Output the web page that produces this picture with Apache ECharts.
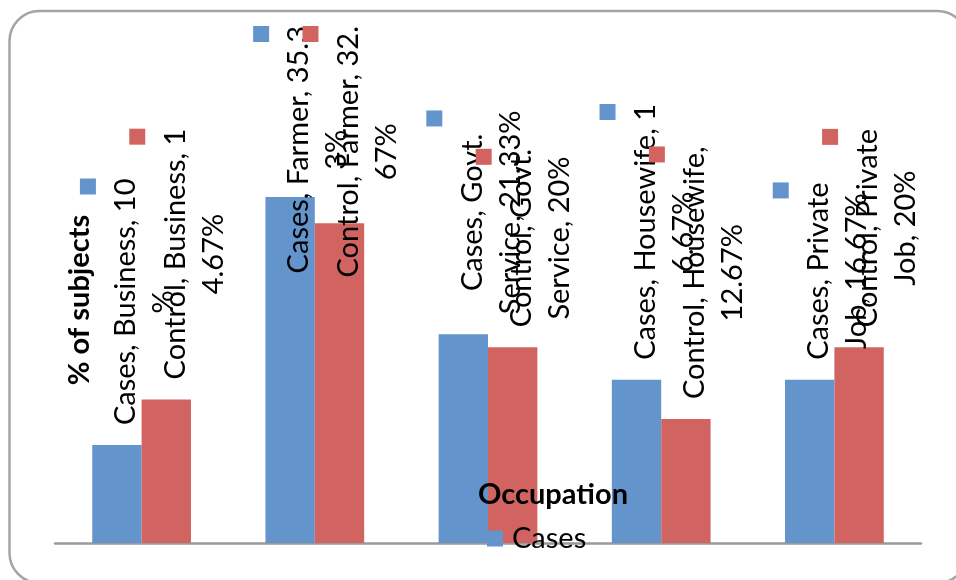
<!DOCTYPE html>
<html>
<head>
<meta charset="utf-8">
<script src="https://cdn.jsdelivr.net/npm/echarts@6/dist/echarts.min.js"></script>
<style>
  html, body { margin: 0; padding: 0; background: #ffffff; }
  #chart { width: 956px; height: 580px; }
</style>
</head>
<body>
<div id="chart"></div>
<script>
// Occupation of subjects: cases vs. controls (% of subjects)
const occupations = ['Business', 'Farmer', 'Govt. Service', 'Housewife', 'Private Job'];
const casesPct = [10, 35.33, 21.33, 16.67, 16.67];
const controlPct = [14.67, 32.67, 20, 12.67, 20];
// character position where each data label wraps onto its second line
const casesWrapAt = [19, 19, 12, 19, 14];
const controlWrapAt = [20, 20, 14, 19, 16];

const CASES_COLOR = '#6494cc';
const CONTROL_COLOR = '#d16460';
const FONT = 'Lato, "Open Sans", sans-serif';
const FONT_SIZE = 29;
const LINE_H = 38;
const LABEL_TOP_LIMIT = 26;
const LABEL_SHIFT_RIGHT = 9;

function makeLabel(color, wraps) {
  return {
    show: true,
    position: 'top',
    distance: 20,
    rotate: 90,
    align: 'left',
    verticalAlign: 'middle',
    formatter: function (p) {
      const full = p.seriesName + ', ' + p.name + ', ' + p.value + '%';
      const cut = wraps[p.dataIndex];
      const l1 = full.slice(0, cut).trim();
      const l2 = full.slice(cut).trim();
      return '{k|}\n{t|' + l1 + '}\n{t|' + l2 + '}';
    },
    rich: {
      k: { width: 16, height: 16, backgroundColor: color, align: 'right', lineHeight: LINE_H },
      t: { fontFamily: FONT, fontSize: FONT_SIZE, color: '#000000', lineHeight: LINE_H, align: 'center' }
    }
  };
}

// Labels are rotated 90deg, so dx/dy act in the label's own frame:
// -dx pushes the label down the page, +dy pushes it to the right.
function keepInside(params) {
  const r = params.labelRect;
  const overflow = r.y < LABEL_TOP_LIMIT ? LABEL_TOP_LIMIT - r.y : 0;
  return { dx: -overflow, dy: LABEL_SHIFT_RIGHT };
}

const chart = echarts.init(document.getElementById('chart'), null, { renderer: 'canvas' });

chart.setOption({
  animation: false,
  backgroundColor: '#ffffff',
  grid: { left: 55, right: 35, top: 151.4, bottom: 37, containLabel: false },
  legend: {
    data: ['Cases'],
    left: 487,
    top: 524,
    padding: 0,
    icon: 'rect',
    itemWidth: 16,
    itemHeight: 16,
    itemGap: 10,
    selectedMode: false,
    textStyle: { fontFamily: FONT, fontSize: FONT_SIZE, color: '#000000', padding: [0, 0, 0, 4] }
  },
  xAxis: {
    type: 'category',
    data: occupations,
    axisLine: { show: true, lineStyle: { color: '#9a9a9a', width: 2.5 } },
    axisTick: { show: false },
    axisLabel: { show: false },
    splitLine: { show: false }
  },
  yAxis: {
    type: 'value',
    min: 0,
    max: 40,
    interval: 5,
    axisLine: { show: false },
    axisTick: { show: false },
    axisLabel: { show: false },
    splitLine: { show: false }
  },
  series: [
    {
      name: 'Cases',
      type: 'bar',
      data: casesPct,
      barGap: '0%',
      barCategoryGap: '43%',
      itemStyle: { color: CASES_COLOR },
      label: makeLabel(CASES_COLOR, casesWrapAt),
      labelLayout: keepInside
    },
    {
      name: 'Control',
      type: 'bar',
      data: controlPct,
      barGap: '0%',
      barCategoryGap: '43%',
      itemStyle: { color: CONTROL_COLOR },
      label: makeLabel(CONTROL_COLOR, controlWrapAt),
      labelLayout: keepInside
    }
  ],
  graphic: [
    {
      type: 'rect',
      silent: true,
      z: -1,
      shape: { x: 9.5, y: 11, width: 958, height: 572, r: 30 },
      style: { fill: 'none', stroke: '#a4a4a4', lineWidth: 2.5 }
    },
    {
      type: 'text',
      silent: true,
      x: 80,
      y: 300,
      rotation: Math.PI / 2,
      style: {
        text: '% of subjects',
        fontFamily: FONT,
        fontSize: FONT_SIZE,
        fontWeight: 'bold',
        fill: '#000000',
        textAlign: 'center',
        textVerticalAlign: 'middle'
      }
    },
    {
      type: 'text',
      silent: true,
      x: 553,
      y: 495,
      z: 10,
      style: {
        text: 'Occupation',
        fontFamily: FONT,
        fontSize: FONT_SIZE,
        fontWeight: 'bold',
        fill: '#000000',
        textAlign: 'center',
        textVerticalAlign: 'middle'
      }
    }
  ]
});
</script>
</body>
</html>
